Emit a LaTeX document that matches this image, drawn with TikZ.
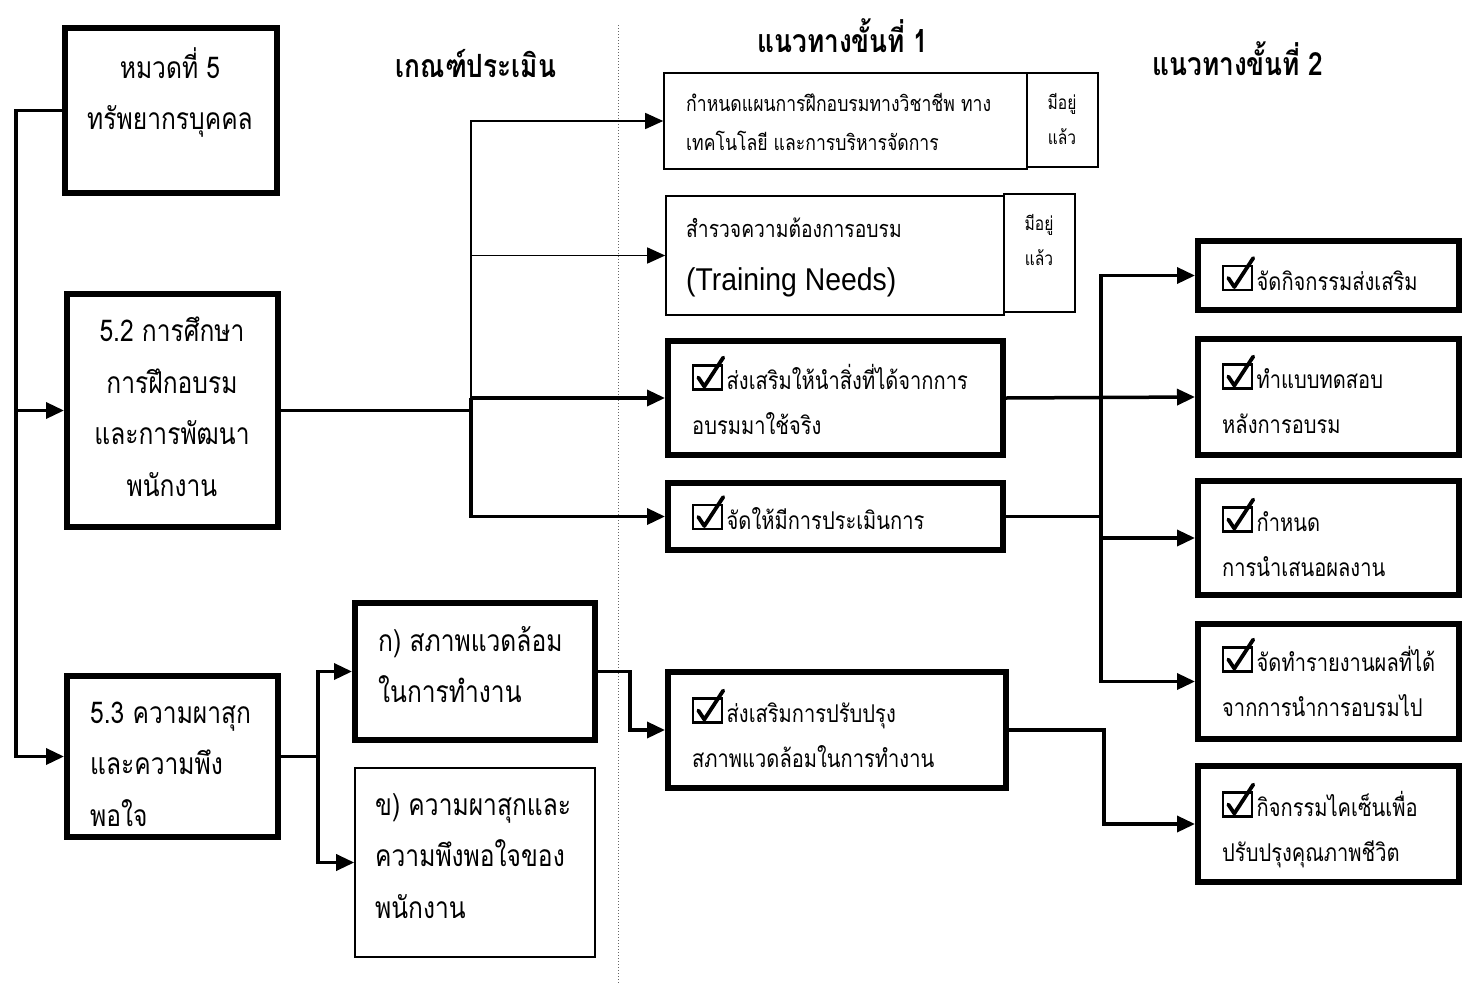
\documentclass[tikz,border=0pt]{standalone}
\usepackage{fontspec}
\usetikzlibrary{arrows.meta}
\newfontfamily\thai[Script=Thai,FakeStretch=0.82]{Loma}
\newfontfamily\lat[FakeStretch=0.9]{Liberation Sans}
\newcommand\cbx{\tikz[x=1pt,y=1pt,baseline=0pt]{\draw[line width=2.2pt] (0,0) rectangle (29,24);
  \draw[line width=3.8pt, line cap=round, line join=round] (5,12) -- (11,3) -- (30,32);}\hspace{1.5pt}}
\begin{document}
\begin{tikzpicture}[x=1pt,y=-1pt,
  thickbox/.style={draw, line width=6pt, rectangle, inner sep=0pt},
  thinbox/.style={draw, line width=1.6pt, rectangle, inner sep=0pt},
  tipA/.style={-{Triangle[length=18pt,width=16pt]}},
  conn/.style={line width=3.5pt, line join=miter, tipA},
  tconn/.style={line width=1.5pt, line join=miter, tipA},
  link/.style={line width=3.5pt, line join=miter},
  Lt/.style={font=\thai\fontsize{30}{51.5}\selectfont, inner sep=0pt},
  Mt/.style={font=\thai\fontsize{24.5}{44.5}\selectfont, inner sep=0pt, align=left, anchor=base west},
  St/.style={font=\thai\fontsize{21.5}{39}\selectfont, inner sep=0pt, align=left, anchor=base west},
  XSt/.style={font=\thai\fontsize{19}{34.5}\selectfont, inner sep=0pt, align=center, anchor=base},
  Ht/.style={font=\thai\bfseries\fontsize{32}{36}\selectfont, inner sep=0pt, anchor=base},
]
\useasboundingbox (0,0) rectangle (1465,983);
\fill[white] (0,0) rectangle (1465,983);

% dotted divider
\draw[dotted, line width=1pt, black!60] (618,25) -- (618,983);

% headers
\node[Ht] (h1) at (476,77) {เกณฑ์ประเมิน};
\node[Ht] (h2) at (843,52) {แนวทางขั้นที่ 1};
\node[Ht] (h3) at (1238,75) {แนวทางขั้นที่ 2};

% left column boxes (base anchor = baseline of last line)
\node[thickbox, minimum width=212pt, minimum height=165pt] (b1) at (171,110.5) {};
\node[Lt, align=center, anchor=base] (b1t) at (170,129.5) {หมวดที่ 5\\ทรัพยากรบุคคล};
\node[thickbox, minimum width=211pt, minimum height=233pt] (b52) at (172.5,410.5) {};
\node[Lt, align=center, anchor=base] (b52t) at (172,496) {5.2 การศึกษา\\การฝึกอบรม\\และการพัฒนา\\พนักงาน};
\node[thickbox, minimum width=211pt, minimum height=161pt] (b53) at (172.5,756.5) {};
\node[Lt, align=left, anchor=base west] (b53t) at (90,826) {5.3 ความผาสุก\\และความพึง\\พอใจ};

% criteria boxes
\node[thickbox, minimum width=240pt, minimum height=137pt] (bk) at (475,671.5) {};
\node[Lt, align=left, anchor=base west] (bkt) at (378,702.5) {ก) สภาพแวดล้อม\\ในการทำงาน};
\node[thinbox, minimum width=240pt, minimum height=189pt] (bkh) at (475,862.5) {};
\node[Lt, align=left, anchor=base west] (bkht) at (375,918) {ข) ความผาสุกและ\\ความพึงพอใจของ\\พนักงาน};

% step 1 boxes
\node[thinbox, minimum width=363pt, minimum height=96pt] (bA) at (845.5,121) {};
\node[St] (bAt) at (686,150) {กำหนดแผนการฝึกอบรมทางวิชาชีพ ทาง\\เทคโนโลยี และการบริหารจัดการ};
\node[thinbox, minimum width=71pt, minimum height=94pt] (sA) at (1062.5,120) {};
\node[XSt] (sAt) at (1062,144) {มีอยู่\\แล้ว};

\node[thinbox, minimum width=338pt, minimum height=119pt] (bB) at (835,255.5) {};
\node[St, font=\thai\fontsize{23.5}{39}\selectfont] (bBt) at (686,237) {สำรวจความต้องการอบรม};
\node[inner sep=0pt, anchor=base west, font=\lat\fontsize{31.5}{34}\selectfont] (bBt2) at (686,290) {(Training Needs)};
\node[thinbox, minimum width=71pt, minimum height=118pt] (sB) at (1039.5,253) {};
\node[XSt] (sBt) at (1039,265) {มีอยู่\\แล้ว};

\node[thickbox, minimum width=335pt, minimum height=114pt] (bC) at (835.5,398) {};
\node[Mt] (bCt) at (692,434) {\cbx ส่งเสริมให้นำสิ่งที่ได้จากการ\\อบรมมาใช้จริง};
\node[thickbox, minimum width=335pt, minimum height=67pt] (bD) at (835.5,516.5) {};
\node[Mt] (bDt) at (692,529) {\cbx จัดให้มีการประเมินการ};
\node[thickbox, minimum width=338pt, minimum height=116pt] (bE) at (837,730) {};
\node[Mt] (bEt) at (692,767) {\cbx ส่งเสริมการปรับปรุง\\สภาพแวดล้อมในการทำงาน};

% step 2 boxes
\node[thickbox, minimum width=261pt, minimum height=69pt] (r1) at (1328.5,275.5) {};
\node[Mt] (r1t) at (1222,290) {\cbx จัดกิจกรรมส่งเสริม};
\node[thickbox, minimum width=261pt, minimum height=116pt] (r2) at (1328.5,397) {};
\node[Mt] (r2t) at (1222,433) {\cbx ทำแบบทดสอบ\\หลังการอบรม};
\node[thickbox, minimum width=261pt, minimum height=114pt] (r3) at (1328.5,538) {};
\node[Mt] (r3t) at (1222,576) {\cbx กำหนด\\การนำเสนอผลงาน};
\node[thickbox, minimum width=261pt, minimum height=115pt] (r4) at (1328.5,681.5) {};
\node[Mt] (r4t) at (1222,716) {\cbx จัดทำรายงานผลที่ได้\\จากการนำการอบรมไป};
\node[thickbox, minimum width=261pt, minimum height=116pt] (r5) at (1328.5,824) {};
\node[Mt] (r5t) at (1222,861) {\cbx กิจกรรมไคเซ็นเพื่อ\\ปรับปรุงคุณภาพชีวิต};

% bus coordinates
\coordinate (L0) at (16,0);
\coordinate (B1) at (471,0);
\coordinate (B2) at (1101,0);
\coordinate (B3) at (1104,0);
\coordinate (B4) at (318,0);
\coordinate (B5) at (630,0);

% left trunk
\draw[conn] (b1.west) -- (b1.west -| L0) |- (b53.west);
\draw[conn] (L0 |- b52.west) -- (b52.west);

% from 5.2 to step 1
\draw[link] (b52.east) -- (B1 |- b52.east);
\draw[tconn] (B1 |- bC.west) |- (bA.west);
\draw[tconn] (B1 |- bB.west) -- (bB.west);
\draw[conn] (B1 |- bC.west) -- (bC.west);
\draw[conn] (B1 |- bC.west) |- (bD.west);

% from step 1 to step 2
\draw[conn] (bC.east) -- (r2.west);
\draw[conn] (bD.east) -| (B2 |- r1.west) -- (r1.west);
\draw[conn] (B2 |- bD.east) |- (r4.west);
\draw[conn] (B2 |- r3.west) -- (r3.west);
\draw[conn] (bE.east) -- (B3 |- bE.east) |- (r5.west);

% from 5.3
\draw[link] (b53.east) -- (B4 |- b53.east);
\draw[conn] (B4 |- b53.east) |- (bk.west);
\draw[conn] (B4 |- b53.east) |- (bkh.west);
\draw[conn] (bk.east) -- (B5 |- bk.east) |- (bE.west);
\end{tikzpicture}
\end{document}
